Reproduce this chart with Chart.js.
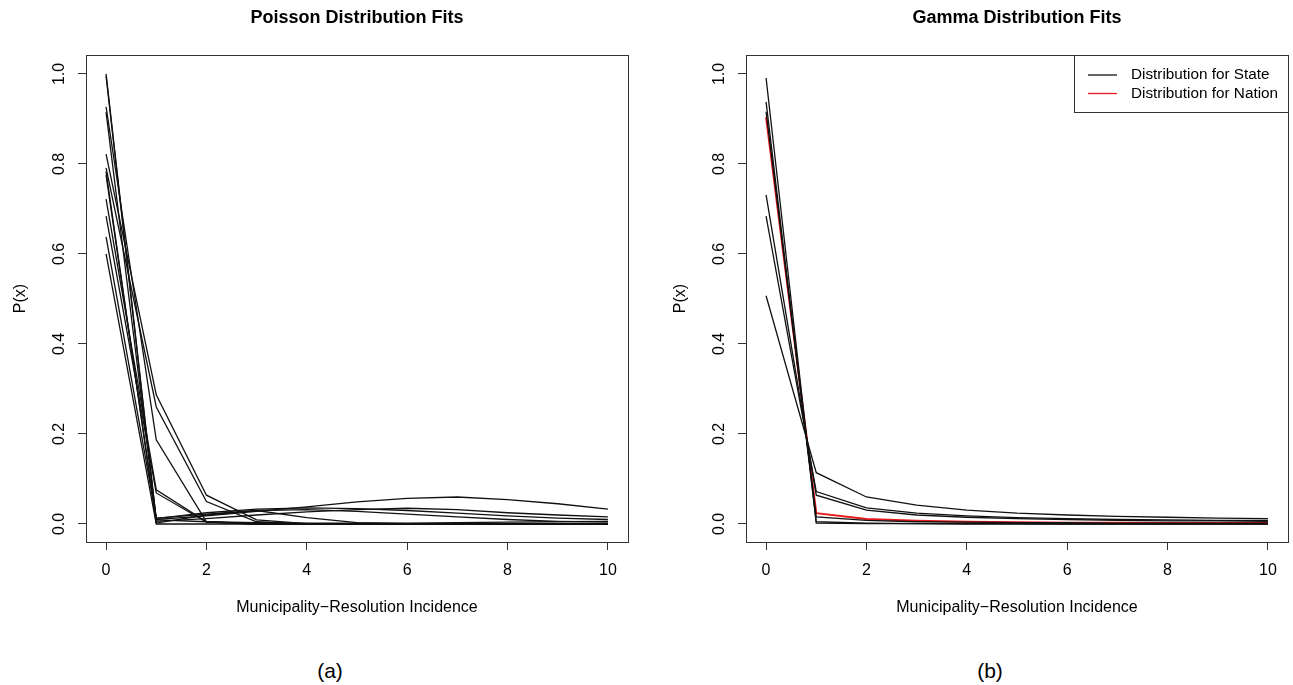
<!DOCTYPE html>
<html>
<head>
<meta charset="utf-8">
<script src="https://cdn.jsdelivr.net/npm/chart.js@4.4.0/dist/chart.umd.min.js"></script>
<style>
body{margin:0;background:#fff;width:1293px;height:685px;position:relative;overflow:hidden;font-family:"Liberation Sans",Arial,sans-serif}
canvas{position:absolute;top:0}
#poisson{left:0}
#gamma{left:660px}
.tag{position:absolute;top:659px;font-size:21px;line-height:24px;width:60px;text-align:center;color:#000}
</style>
</head>
<body>
<canvas id="poisson" width="646" height="640"></canvas>
<canvas id="gamma" width="633" height="640"></canvas>
<div class="tag" style="left:300px">(a)</div>
<div class="tag" style="left:960px">(b)</div>
<script>
// x values shared by every curve
const incidence = [0, 1, 2, 3, 4, 5, 6, 7, 8, 9, 10];
const xTicks = [0, 2, 4, 6, 8, 10];
const yTicks = [0, 0.2, 0.4, 0.6, 0.8, 1.0];

// per-state poisson fits
const poissonCurves = [
  [1.000, 0.010, 0.018, 0.028, 0.038, 0.049, 0.057, 0.060, 0.054, 0.045, 0.033],
  [0.995, 0.006, 0.012, 0.020, 0.027, 0.032, 0.035, 0.032, 0.025, 0.020, 0.016],
  [0.927, 0.187, 0.005, 0.000, 0.000, 0.000, 0.000, 0.000, 0.000, 0.000, 0.000],
  [0.915, 0.012, 0.025, 0.033, 0.036, 0.034, 0.030, 0.024, 0.018, 0.013, 0.010],
  [0.822, 0.287, 0.064, 0.009, 0.001, 0.000, 0.000, 0.000, 0.000, 0.000, 0.000],
  [0.791, 0.260, 0.050, 0.005, 0.000, 0.000, 0.000, 0.000, 0.000, 0.000, 0.000],
  [0.783, 0.002, 0.020, 0.030, 0.032, 0.028, 0.022, 0.016, 0.010, 0.006, 0.004],
  [0.775, 0.009, 0.005, 0.003, 0.002, 0.002, 0.002, 0.003, 0.004, 0.005, 0.006],
  [0.722, 0.076, 0.005, 0.000, 0.000, 0.000, 0.000, 0.000, 0.000, 0.000, 0.000],
  [0.684, 0.069, 0.004, 0.000, 0.000, 0.000, 0.000, 0.000, 0.000, 0.000, 0.000],
  [0.638, 0.013, 0.022, 0.030, 0.014, 0.003, 0.001, 0.000, 0.000, 0.000, 0.000],
  [0.600, 0.000, 0.000, 0.000, 0.000, 0.000, 0.000, 0.000, 0.000, 0.000, 0.000]
];

// per-state gamma fits (panel b)
const gammaStateCurves = [
  [0.991, 0.002, 0.001, 0.001, 0.000, 0.000, 0.000, 0.000, 0.000, 0.000, 0.000],
  [0.938, 0.005, 0.002, 0.001, 0.001, 0.001, 0.000, 0.000, 0.000, 0.000, 0.000],
  [0.916, 0.016, 0.008, 0.005, 0.004, 0.003, 0.003, 0.002, 0.002, 0.002, 0.002],
  [0.731, 0.064, 0.031, 0.020, 0.015, 0.012, 0.010, 0.008, 0.007, 0.007, 0.006],
  [0.684, 0.072, 0.036, 0.024, 0.018, 0.014, 0.012, 0.010, 0.009, 0.008, 0.008],
  [0.507, 0.114, 0.060, 0.042, 0.031, 0.024, 0.020, 0.017, 0.015, 0.013, 0.012]
];
const gammaNation = [0.904, 0.024, 0.011, 0.007, 0.005, 0.004, 0.003, 0.003, 0.002, 0.002, 0.002];

const legendLabels = ["Distribution for State", "Distribution for Nation"];
const legendColors = ["#111111", "#e8191b"];

const fontFamily = '"Liberation Sans", Arial, sans-serif';
const xTitle = "Municipality\u2212Resolution Incidence";

function toPoints(vals) {
  return vals.map((y, i) => ({x: incidence[i], y: y}));
}

function lineSet(vals, color, width) {
  return {
    data: toPoints(vals),
    borderColor: color,
    borderWidth: width,
    pointRadius: 0,
    tension: 0,
    fill: false
  };
}

// R style box round the plot region
const framePlugin = {
  id: 'frame',
  afterDraw(chart) {
    const {ctx, chartArea: a} = chart;
    ctx.save();
    ctx.strokeStyle = '#333';
    ctx.lineWidth = 1;
    ctx.strokeRect(a.left + 0.5, a.top + 0.5, a.right - a.left, a.bottom - a.top);
    ctx.restore();
  }
};

// legend box in top right corner of panel b
const boxLegend = {
  id: 'boxLegend',
  afterDraw(chart, args, opts) {
    if (!opts.show) return;
    const {ctx, chartArea: a} = chart;
    const w = 214, h = 57;
    const x0 = a.right - w, y0 = a.top;
    ctx.save();
    ctx.fillStyle = '#fff';
    ctx.fillRect(x0, y0, w, h);
    ctx.strokeStyle = '#333';
    ctx.lineWidth = 1;
    ctx.strokeRect(x0 + 0.5, y0 + 0.5, w, h);
    ctx.font = '15.3px ' + fontFamily;
    ctx.textBaseline = 'middle';
    legendLabels.forEach((lab, i) => {
      const y = y0 + 20 + i * 18.5;
      ctx.strokeStyle = legendColors[i];
      ctx.lineWidth = 1.3;
      ctx.beginPath();
      ctx.moveTo(x0 + 14, y);
      ctx.lineTo(x0 + 43, y);
      ctx.stroke();
      ctx.fillStyle = '#000';
      ctx.fillText(lab, x0 + 57, y);
    });
    ctx.restore();
  }
};

function makeChart(canvas, title, datasets, padRight, showLegend) {
  const tickFont = {family: fontFamily, size: 16};
  return new Chart(canvas, {
    type: 'line',
    data: {datasets: datasets},
    plugins: [framePlugin, boxLegend],
    options: {
      responsive: false,
      animation: false,
      layout: {padding: {left: 0, right: padRight, top: 0, bottom: 0}},
      scales: {
        x: {
          type: 'linear',
          min: -0.4,
          max: 10.4,
          afterBuildTicks: s => { s.ticks = xTicks.map(v => ({value: v})); },
          afterFit: s => { s.height = 98; },
          ticks: {font: tickFont, color: '#000', padding: 11, maxRotation: 0, autoSkip: false,
            callback: v => String(v)},
          grid: {drawOnChartArea: false, drawTicks: true, tickLength: 8, color: '#333'},
          border: {display: false},
          title: {display: true, text: xTitle, color: '#000', font: tickFont,
            padding: {top: 0, bottom: 23}}
        },
        y: {
          min: -0.04,
          max: 1.042,
          afterBuildTicks: s => { s.ticks = yTicks.map(v => ({value: v})); },
          afterFit: s => { s.width = 86; },
          ticks: {font: tickFont, color: '#000', padding: 7, minRotation: 90, maxRotation: 90,
            crossAlign: 'center', autoSkip: false, callback: v => v.toFixed(1)},
          grid: {drawOnChartArea: false, drawTicks: true, tickLength: 8, color: '#333'},
          border: {display: false},
          title: {display: true, text: 'P(x)', color: '#000', font: tickFont,
            padding: {top: 11, bottom: 0}}
        }
      },
      plugins: {
        legend: {display: false},
        tooltip: {enabled: false},
        title: {
          display: true,
          text: title,
          fullSize: false,
          color: '#000',
          font: {family: fontFamily, size: 18, weight: 'bold'},
          padding: {top: 7, bottom: 26.4}
        },
        boxLegend: {show: showLegend}
      }
    }
  });
}

const poissonSets = poissonCurves.map(c => lineSet(c, '#111111', 1.3));
const gammaSets = gammaStateCurves.map(c => lineSet(c, '#111111', 1.3));
gammaSets.push(lineSet(gammaNation, '#e8191b', 2));

makeChart(document.getElementById('poisson'), 'Poisson Distribution Fits', poissonSets, 18, false);
makeChart(document.getElementById('gamma'), 'Gamma Distribution Fits', gammaSets, 5, true);
</script>
</body>
</html>
